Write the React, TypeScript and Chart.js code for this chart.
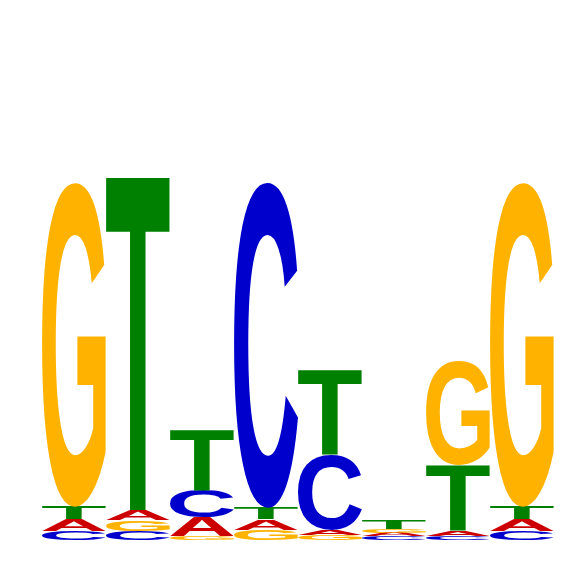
import { useEffect, useRef } from 'react';
import { Chart, registerables } from 'chart.js';

Chart.register(...registerables);

// information content (bits) per letter, per motif position
const positions = ['1', '2', '3', '4', '5', '6', '7', '8'];
const bitsA = [0.045, 0.041, 0.075, 0.041, 0.020, 0.0145, 0.019, 0.045];
const bitsC = [0.035, 0.035, 0.105, 1.255, 0.288, 0.014, 0.017, 0.035];
const bitsG = [1.25, 0.040, 0.013, 0.040, 0.018, 0.015, 0.402, 1.25];
const bitsT = [0.048, 1.292, 0.233, 0.043, 0.326, 0.035, 0.253, 0.048];

const letterColors: Record<string, string> = {
  A: '#CC0000',
  C: '#0000CC',
  G: '#FFB300',
  T: '#008000',
};

const GLYPH_FONT = 'bold 200px "Liberation Sans", Arial, sans-serif';

// stack letters smallest at the bottom, one dataset per stack level
function buildStacks() {
  const byPos = positions.map((_, i) =>
    [
      { letter: 'A', v: bitsA[i] },
      { letter: 'C', v: bitsC[i] },
      { letter: 'G', v: bitsG[i] },
      { letter: 'T', v: bitsT[i] },
    ].sort((a, b) => a.v - b.v)
  );
  return [0, 1, 2, 3].map((r) => ({
    label: 'level ' + (r + 1),
    data: byPos.map((p) => p[r].v),
    letters: byPos.map((p) => p[r].letter),
    backgroundColor: 'rgba(0,0,0,0)',
    borderWidth: 0,
    barPercentage: 1,
    categoryPercentage: 1,
  }));
}

function drawLetter(ctx: CanvasRenderingContext2D, letter: string, left: number, top: number, w: number, h: number) {
  if (w <= 0 || h <= 0) return;
  ctx.save();
  ctx.font = GLYPH_FONT;
  ctx.textAlign = 'left';
  ctx.textBaseline = 'alphabetic';
  const m = ctx.measureText(letter);
  const gw = m.actualBoundingBoxLeft + m.actualBoundingBoxRight;
  const gh = m.actualBoundingBoxAscent + m.actualBoundingBoxDescent;
  ctx.translate(left, top);
  ctx.scale(w / gw, h / gh);
  ctx.fillStyle = letterColors[letter];
  ctx.fillText(letter, m.actualBoundingBoxLeft, m.actualBoundingBoxAscent);
  ctx.restore();
}

const logoPlugin = {
  id: 'logoLetters',
  afterDatasetsDraw(chart: any) {
    const ctx = chart.ctx as CanvasRenderingContext2D;
    chart.data.datasets.forEach((ds: any, di: number) => {
      const meta = chart.getDatasetMeta(di);
      meta.data.forEach((bar: any, i: number) => {
        const { x, y, base, width } = bar.getProps(['x', 'y', 'base', 'width'], true);
        drawLetter(ctx, ds.letters[i], x - width / 2, Math.min(y, base), width, Math.abs(base - y));
      });
    });
  },
};

export default function App() {
  const canvasRef = useRef<HTMLCanvasElement>(null);

  useEffect(() => {
    if (!canvasRef.current) return;
    const chart = new Chart(canvasRef.current, {
      type: 'bar',
      data: { labels: positions, datasets: buildStacks() as any },
      options: {
        animation: false,
        responsive: true,
        maintainAspectRatio: false,
        layout: { padding: { left: 42, right: 12, top: 21, bottom: 26 } },
        scales: {
          x: { stacked: true, display: false },
          y: { stacked: true, display: false, min: 0, max: 2 },
        },
        plugins: {
          legend: { display: false },
          tooltip: { enabled: false },
        },
      },
      plugins: [logoPlugin],
    });
    return () => chart.destroy();
  }, []);

  return (
    <div style={{ position: 'fixed', left: 0, top: 0, width: 566, height: 566, background: '#fff' }}>
      <canvas ref={canvasRef} />
    </div>
  );
}
